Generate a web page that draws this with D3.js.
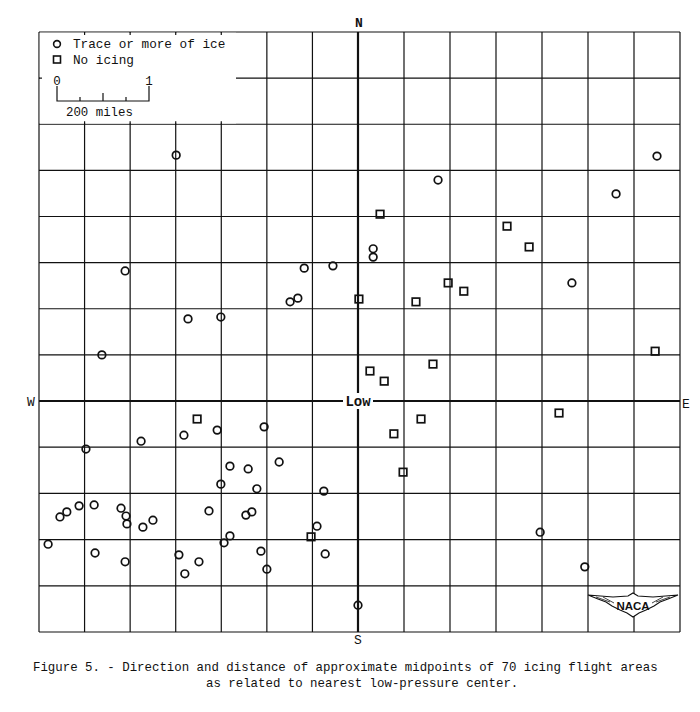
<!DOCTYPE html>
<html>
<head>
<meta charset="utf-8">
<script src="https://cdn.jsdelivr.net/npm/d3@7/dist/d3.min.js"></script>
<style>
  html, body { margin: 0; padding: 0; background: #fff; }
  svg { display: block; }
  text { font-family: "Liberation Mono", "DejaVu Sans Mono", monospace; fill: #111; }
</style>
</head>
<body>
<svg id="chart" width="700" height="712"></svg>
<script>
// Positions in grid cells (1 cell = 100 miles); east (+) / west (-), north (+) / south (-)
const iceEast  = [-3.99, 6.50, 1.74, 5.61, -5.11, -1.18, -0.55, -1.49, -1.32, -3.73, -3.01, -5.62,
                  -3.82, -3.09, -2.06, -4.76, -5.97, 0.33, 0.33, 4.65, -2.81, -2.41, -1.73, -3.01,
                  -2.22, -0.75, -6.54, -6.39, -6.12, -5.79, -5.20, -5.09, -5.07, -4.72, -4.50, -3.27,
                  -2.46, -2.33, -2.81, -2.94, -0.90, -6.80, -5.77, -5.11, -3.93, -3.49, -3.80, -2.13,
                  -2.00, -0.72, 3.96, 4.93, 0.00];
const iceNorth = [5.33, 5.31, 4.79, 4.49, 2.82, 2.88, 2.93, 2.15, 2.23, 1.78, 1.82, 1.00,
                  -0.74, -0.63, -0.56, -0.87, -1.04, 3.30, 3.12, 2.56, -1.41, -1.47, -1.32, -1.80,
                  -1.90, -1.95, -2.51, -2.40, -2.27, -2.25, -2.32, -2.49, -2.66, -2.73, -2.58, -2.38,
                  -2.47, -2.40, -2.92, -3.07, -2.71, -3.10, -3.29, -3.48, -3.33, -3.48, -3.74, -3.25,
                  -3.64, -3.31, -2.84, -3.59, -4.42];
const noIceEast  = [0.48, 3.24, -3.53, 3.72, 1.96, 2.30, 0.02, 1.26, 6.46, 1.63, 0.26, 0.57,
                    4.37, 1.37, 0.78, 0.98, -1.03];
const noIceNorth = [4.05, 3.79, -0.39, 3.34, 2.56, 2.38, 2.21, 2.15, 1.08, 0.80, 0.65, 0.43,
                    -0.26, -0.39, -0.71, -1.54, -2.94];
const gridEast  = [-7, -6, -5, -4, -3, -2, -1, 0, 1, 2, 3, 4, 5, 6, 7];
const gridNorth = [-5, -4, -3, -2, -1, 0, 1, 2, 3, 4, 5, 6, 7, 8];
const scaleTicks = [0, 0.25, 0.5, 0.75, 1];
const legendLabels = ["Trace or more of ice", "No icing"];
const compass = { N: "N", S: "S", W: "W", E: "E" };
const captionLines = [
  "Figure 5. - Direction and distance of approximate midpoints of 70 icing flight areas",
  "as related to nearest low-pressure center."
];

const svg = d3.select("#chart");
const x = d3.scaleLinear().domain([-7, 0, 7]).range([39, 358, 680]);
const y = d3.scaleLinear().domain([-5, 0, 8]).range([632, 401, 32]);

const ink = "#111";

// grid
const g = svg.append("g");
g.selectAll("line.v").data(gridEast).join("line")
  .attr("x1", d => x(d)).attr("x2", d => x(d))
  .attr("y1", y(8)).attr("y2", y(-5))
  .attr("stroke", ink).attr("stroke-width", d => d === 0 ? 2.2 : 1.2);
g.selectAll("line.h").data(gridNorth).join("line")
  .attr("y1", d => y(d)).attr("y2", d => y(d))
  .attr("x1", x(-7)).attr("x2", x(7))
  .attr("stroke", ink).attr("stroke-width", d => d === 0 ? 2.2 : 1.2);

// legend area (grid removed)
const lgX0 = x(-7) + 0.8, lgX1 = 236, lgY0 = y(8) + 0.8, lgY1 = y(6) - 0.8;
svg.append("rect").attr("x", lgX0).attr("y", lgY0)
  .attr("width", lgX1 - lgX0).attr("height", lgY1 - lgY0).attr("fill", "#fff");
// small stubs of the hidden grid lines
svg.selectAll("line.stubT").data(gridEast.filter(d => x(d) > lgX0 + 2 && x(d) < lgX1)).join("line")
  .attr("x1", d => x(d)).attr("x2", d => x(d)).attr("y1", y(8)).attr("y2", y(8) + 3)
  .attr("stroke", ink).attr("stroke-width", 1.2);
svg.selectAll("line.stubB").data(gridEast.filter(d => x(d) > lgX0 + 2 && x(d) < lgX1)).join("line")
  .attr("x1", d => x(d)).attr("x2", d => x(d)).attr("y1", y(6) - 3).attr("y2", y(6))
  .attr("stroke", ink).attr("stroke-width", 1.2);
svg.append("line").attr("x1", x(-7)).attr("x2", x(-7) + 3).attr("y1", y(7)).attr("y2", y(7))
  .attr("stroke", ink).attr("stroke-width", 1.2);

// legend entries
const lg = svg.append("g").attr("font-size", 12.7);
lg.append("circle").attr("cx", 57).attr("cy", 44).attr("r", 3.4)
  .attr("fill", "none").attr("stroke", ink).attr("stroke-width", 1.6);
lg.append("rect").attr("x", 53.5).attr("y", 56).attr("width", 7).attr("height", 7)
  .attr("fill", "none").attr("stroke", ink).attr("stroke-width", 1.6);
lg.selectAll("text.lab").data(legendLabels).join("text")
  .attr("x", 73).attr("y", (d, i) => 48 + i * 16).text(d => d);

// distance scale bar
const sb = d3.scaleLinear().domain([0, 1]).range([57, 149]);
const sg = svg.append("g");
sg.append("path")
  .attr("d", `M${sb(0)},86 V101 H${sb(1)} V86`)
  .attr("fill", "none").attr("stroke", ink).attr("stroke-width", 1.2);
sg.selectAll("line").data(scaleTicks.filter(t => t > 0 && t < 1)).join("line")
  .attr("x1", d => sb(d)).attr("x2", d => sb(d))
  .attr("y1", d => d === 0.5 ? 93 : 97).attr("y2", 101)
  .attr("stroke", ink).attr("stroke-width", 1.2);
sg.selectAll("text").data([0, 1]).join("text")
  .attr("x", d => sb(d)).attr("y", 85).attr("text-anchor", "middle")
  .attr("font-size", 12.5).text(d => d);
sg.append("text").attr("x", 66).attr("y", 116).attr("font-size", 12.4).text("200 miles");

// compass labels
const cg = svg.append("g").attr("font-size", 13).attr("text-anchor", "middle");
cg.append("text").attr("x", x(0) + 1).attr("y", 27).attr("font-weight", "bold").text(compass.N);
cg.append("text").attr("x", x(0)).attr("y", 644).text(compass.S);
cg.append("text").attr("x", 31).attr("y", 406).text(compass.W);
cg.append("text").attr("x", 686).attr("y", 408).text(compass.E);

// Low label at the centre
svg.append("rect").attr("x", 343).attr("y", 393).attr("width", 30).attr("height", 16).attr("fill", "#fff");
svg.append("text").attr("x", x(0)).attr("y", 406).attr("text-anchor", "middle")
  .attr("font-size", 14).attr("font-weight", "bold").text("Low");

// points
const ice = iceEast.map((e, i) => ({ e, n: iceNorth[i] }));
const none = noIceEast.map((e, i) => ({ e, n: noIceNorth[i] }));
svg.append("g").selectAll("circle").data(ice).join("circle")
  .attr("cx", d => x(d.e)).attr("cy", d => y(d.n)).attr("r", 3.8)
  .attr("fill", "none").attr("stroke", ink).attr("stroke-width", 1.7);
const sq = 7.5;
svg.append("g").selectAll("rect").data(none).join("rect")
  .attr("x", d => x(d.e) - sq / 2).attr("y", d => y(d.n) - sq / 2)
  .attr("width", sq).attr("height", sq)
  .attr("fill", "none").attr("stroke", ink).attr("stroke-width", 1.7);

// NACA emblem
const ng = svg.append("g");
ng.append("path")
  .attr("d", "M588,595 L613,597 L628,596 L633,593 L638,596 L653,597 L678,595 " +
             "L668,599 L660,602 L654,606 L646,610 L639,613 L633,617 L627,613 L620,610 " +
             "L612,606 L606,602 L598,599 Z")
  .attr("fill", "#fff").attr("stroke", ink).attr("stroke-width", 1.1);
ng.append("path")
  .attr("d", "M596,597 L610,602 M603,597 L614,603 M670,597 L656,602 M663,597 L652,603")
  .attr("stroke", ink).attr("stroke-width", 0.8).attr("fill", "none");
ng.append("text").attr("x", 633).attr("y", 610).attr("text-anchor", "middle")
  .style("font-family", "'Liberation Sans', Arial, sans-serif")
  .attr("font-size", 11.5).attr("font-weight", "bold").text("NACA");

// caption
svg.append("text").attr("x", 33).attr("y", 671).attr("font-size", 12.4).text(captionLines[0]);
svg.append("text").attr("x", 206).attr("y", 687).attr("font-size", 12.4).text(captionLines[1]);
</script>
</body>
</html>
